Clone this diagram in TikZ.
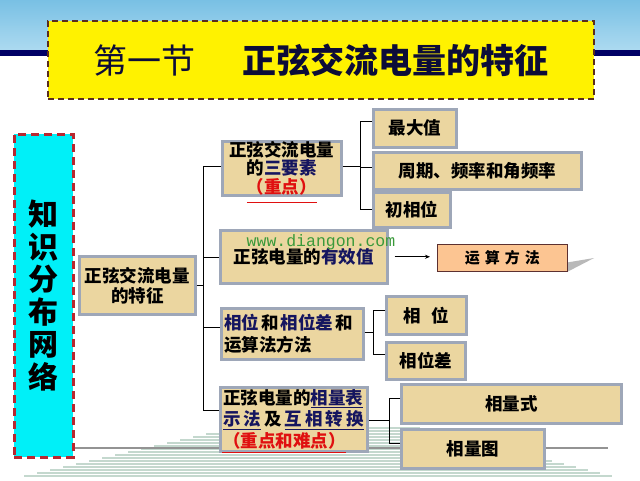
\documentclass[tikz,border=0pt]{standalone}
\usepackage{fontspec}
\setmainfont{Noto Sans CJK SC}
\newfontfamily\monof{Liberation Mono}
\usetikzlibrary{arrows.meta}
\definecolor{tanf}{HTML}{EBD6A0}
\definecolor{boxline}{HTML}{9EA7B8}
\definecolor{navyt}{HTML}{15155F}
\definecolor{redt}{HTML}{E01010}
\definecolor{cyanb}{HTML}{00F0F8}
\definecolor{dred}{HTML}{B82830}
\definecolor{hdtop}{HTML}{79C0E4}
\definecolor{hdbot}{HTML}{ACDAF0}
\definecolor{hdnavy}{HTML}{000066}
\definecolor{fanc}{HTML}{C4D8CE}
\definecolor{peach}{HTML}{FCC592}
\definecolor{peachline}{HTML}{5C3030}
\definecolor{wmark}{HTML}{3A9A3A}
\definecolor{ttlc}{HTML}{0C0C38}
\definecolor{ttlline}{HTML}{5A2E1E}
\newcommand{\emn}[1]{{\color{navyt}#1}}
\newcommand{\emu}[1]{{\color{navyt}\underline{#1}}}
\begin{document}
\begin{tikzpicture}[x=1pt,y=-1pt,
  box/.style={draw=boxline, line width=2.5pt, fill=tanf, inner sep=0pt, anchor=north west,
    font=\fontsize{17.5}{19}\selectfont\bfseries, align=center},
  lbox/.style={box, align=left, inner xsep=3pt},
  link/.style={draw=black, line width=0.9pt},
  fan/.style={draw=fanc, line width=1.2pt}]
\useasboundingbox (0,0) rectangle (640,480);
\fill[white] (0,0) rectangle (640,480);
% header band
\shade[top color=hdtop, bottom color=hdbot] (0,0) rectangle (640,50);
\fill[hdnavy] (0,50) rectangle (640,56);
% bottom fan lines
\foreach \i in {0,...,16}{
  \draw[fan] ({232-13*\i},{428+3*\i}) -- ({420+12*\i},{428+3*\i});
}
\draw[draw=gray!85, line width=2pt] (73,448) -- (608,448);
% title
\node[draw=ttlline, dashed, dash pattern=on 6pt off 4pt, line width=2pt, fill=yellow,
  minimum width=546pt, minimum height=78pt, anchor=north west, inner sep=0pt] (title) at (47,20) {};
\node[text=ttlc, font=\fontsize{34}{36}\selectfont\bfseries] (ttl) at (title.center)
  {{\mdseries 第一节}\hspace{47pt}正弦交流电量的特征};
% left vertical box
\node[draw=dred, dashed, dash pattern=on 8pt off 5pt, line width=2.5pt, fill=cyanb,
  minimum width=59pt, minimum height=323pt, anchor=north west, inner sep=0pt] (left) at (13,133) {};
\node[align=center, font=\fontsize{30}{32.5}\selectfont\bfseries] (kv) at (left.center) {知\\识\\分\\布\\网\\络};
% main node
\node[box, minimum width=116pt, minimum height=58pt, font=\fontsize{17.5}{20}\selectfont\bfseries] (main) at (78,255) {正弦交流电量\\的特征};
% level 1
\node[box, minimum width=119pt, minimum height=52pt, font=\fontsize{17.5}{18.5}\selectfont\bfseries] (b1) at (221,140)
  {正弦交流电量\\的\emn{三要素}\\{\color{redt}（重点）}};
\node[box, minimum width=167pt, minimum height=53pt] (b2) at (219,229) {正弦电量的\emn{有效值}};
\node[lbox, minimum width=142pt, minimum height=51pt, text width=136pt, font=\fontsize{17.5}{22}\selectfont\bfseries] (b3) at (220,307)
  {\emn{相位}\kern2pt 和\kern2pt\emn{相位差}\kern2pt 和\\运算法方法};
\node[lbox, minimum width=147pt, minimum height=64pt, text width=141pt, font=\fontsize{17.5}{21.5}\selectfont\bfseries] (b4) at (219,386)
  {正弦电量的\emu{相量表}\\\emu{示\kern3pt 法}\kern3pt 及\kern3pt\emu{互\kern3pt 相\kern3pt 转\kern3pt 换}\\{\color{redt}（重点和难点）}};
% level 2
\node[box, minimum width=83pt, minimum height=38pt] (m1) at (372,108) {最大值};
\node[box, minimum width=208pt, minimum height=37pt] (m2) at (372,151) {周期、频率和角频率};
\node[box, minimum width=77pt, minimum height=35pt] (m3) at (372,191) {初相位};
\node[box, minimum width=80pt, minimum height=38pt] (p1) at (385,295) {相\hspace{10pt}位};
\node[box, minimum width=79pt, minimum height=37pt] (p2) at (385,341) {相位差};
\node[box, minimum width=220pt, minimum height=39pt] (q1) at (400,383) {相量式};
\node[box, minimum width=143pt, minimum height=39pt] (q2) at (400,428) {相量图};
% 运算方法
\fill[gray!55] (567,262.5) -- (594,258) -- (567,272) -- cycle;
\node[draw=peachline, line width=0.9pt, fill=peach, minimum width=130pt, minimum height=27pt,
  anchor=north west, inner sep=0pt, font=\fontsize{15}{16}\selectfont\bfseries] (ys) at (437,244) {运\kern5pt 算\kern5pt 方\kern5pt 法};
% red underlines
\draw[redt, line width=1.6pt] ([xshift=-35pt,yshift=-6pt]b1.south) -- ([xshift=35pt,yshift=-6pt]b1.south);
\draw[redt, line width=1.6pt] ([xshift=-72pt,yshift=0pt]b4.south) -- ([xshift=52pt,yshift=0pt]b4.south);
% watermark
\node[text=wmark, font=\monof\fontsize{16.5}{18}\selectfont] (wm) at (321,242) {www.diangon.com};
% connectors
\coordinate (tx) at (203,0);
\coordinate (s1) at (360,0);
\coordinate (s2) at (373,0);
\coordinate (s3) at (389,0);
\draw[link] (main.east) -- (main.east -| tx);
\draw[link] ([yshift=2pt]b1.west -| tx) -- ([yshift=9pt]b4.west -| tx);
\draw[link] ([yshift=2pt]b1.west) -- ([yshift=2pt]b1.west -| tx);
\draw[link] ([yshift=-1pt]b2.west) -- ([yshift=-1pt]b2.west -| tx);
\draw[link] ([yshift=6pt]b3.west) -- ([yshift=6pt]b3.west -| tx);
\draw[link] ([yshift=9pt]b4.west) -- ([yshift=9pt]b4.west -| tx);
% sub trunk 1
\draw[link] ([yshift=7pt]m1.west -| s1) -- (m3.west -| s1);
\draw[link] ([yshift=2pt]b1.east) -- ([yshift=2pt]b1.east -| s1);
\draw[link] ([yshift=7pt]m1.west) -- ([yshift=7pt]m1.west -| s1);
\draw[link] ([yshift=3pt]m2.west) -- ([yshift=3pt]m2.west -| s1);
\draw[link] (m3.west) -- (m3.west -| s1);
% sub trunk 2
\draw[link] ([yshift=5pt]p1.west -| s2) -- ([yshift=6pt]p2.west -| s2);
\draw[link] ([yshift=1pt]b3.east) -- ([yshift=1pt]b3.east -| s2);
\draw[link] ([yshift=5pt]p1.west) -- ([yshift=5pt]p1.west -| s2);
\draw[link] ([yshift=6pt]p2.west) -- ([yshift=6pt]p2.west -| s2);
% sub trunk 3
\draw[link] ([yshift=5pt]q1.west -| s3) -- ([yshift=5pt]q2.west -| s3);
\draw[link] ([yshift=-1pt]b4.east) -- ([yshift=-1pt]b4.east -| s3);
\draw[link] ([yshift=5pt]q1.west) -- ([yshift=5pt]q1.west -| s3);
\draw[link] ([yshift=5pt]q2.west) -- ([yshift=5pt]q2.west -| s3);
% arrow
\draw[line width=0.8pt, -{Stealth[length=5pt,width=4pt]}] ([xshift=6pt]b2.east) -- ([xshift=-7pt]ys.west |- b2.east);
\end{tikzpicture}
\end{document}
